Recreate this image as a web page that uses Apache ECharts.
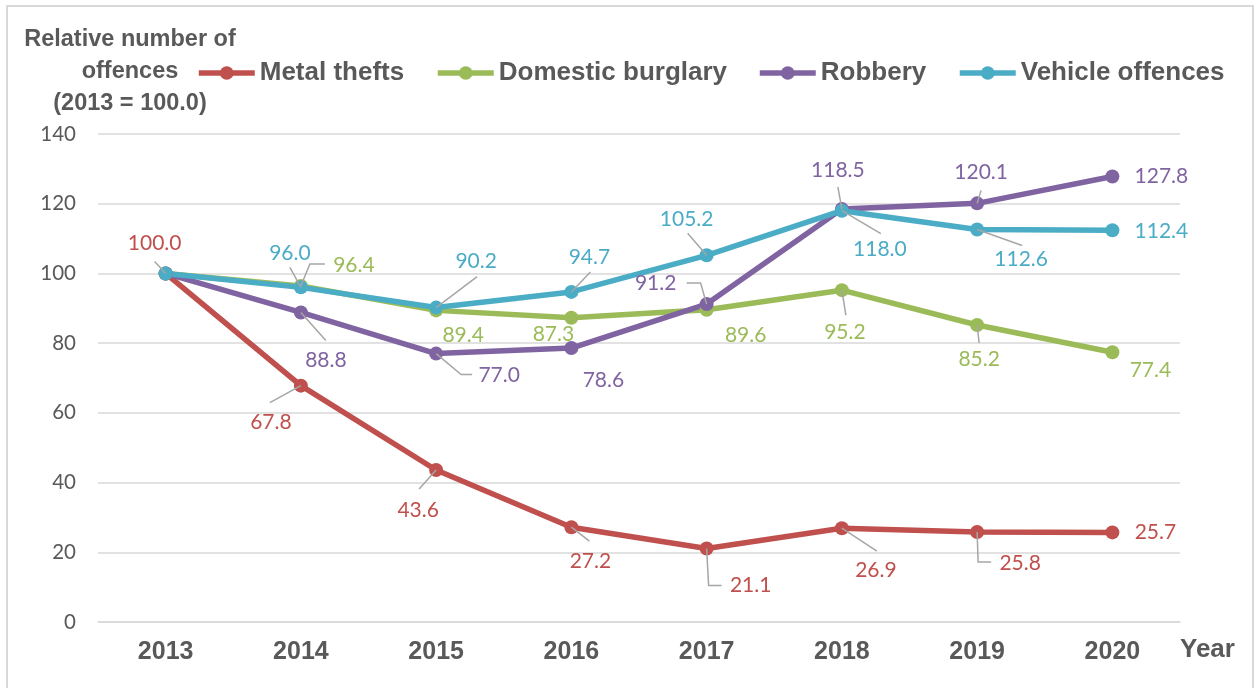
<!DOCTYPE html>
<html>
<head>
<meta charset="utf-8">
<script src="https://cdn.jsdelivr.net/npm/echarts@6/dist/echarts.min.js"></script>
<style>
  html, body { margin: 0; padding: 0; background: #ffffff; }
  #chart { width: 1258px; height: 688px; }
</style>
</head>
<body>
<div id="chart"></div>
<script>
// Relative number of offences, indexed to 2013 = 100.0
const years = ['2013', '2014', '2015', '2016', '2017', '2018', '2019', '2020'];
const metalThefts      = [100.0, 67.8, 43.6, 27.2, 21.1, 26.9, 25.8, 25.7];
const domesticBurglary = [100.0, 96.4, 89.4, 87.3, 89.6, 95.2, 85.2, 77.4];
const robbery          = [100.0, 88.8, 77.0, 78.6, 91.2, 118.5, 120.1, 127.8];
const vehicleOffences  = [100.0, 96.0, 90.2, 94.7, 105.2, 118.0, 112.6, 112.4];
const yTicks = [0, 20, 40, 60, 80, 100, 120, 140];

const seriesNames = ['Metal thefts', 'Domestic burglary', 'Robbery', 'Vehicle offences'];
const seriesColors = ['#C0504D', '#9BBB59', '#8064A2', '#4BACC6'];

// Data label offsets from each point, in pixels (null = point has no label)
const metalLabels    = [[-11, -30], [-30, 37], [-18, 40], [19, 34], [44, 37], [34, 42], [43, 31], [43, 0]];
const burglaryLabels = [null, [53, -21], [27, 25], [-18, 17], [39, 26], [3, 42], [2, 34], [38, 18]];
const robberyLabels  = [null, [25, 48], [63, 22], [32, 32], [-51, -21], [-4, -39], [4, -31], [49, 0]];
const vehicleLabels  = [null, [-11, -34], [40, -46], [18, -35], [-20, -36], [38, 39], [44, 30], [49, 1]];

// Leader line paths, as pixel offsets from each point (null = no leader)
const metalLeaders = [
  [[-11, -12], [0, 0]], [[-31, 17], [0, 0]], [[-17, 19], [0, 0]], [[0, 0], [18, 14]],
  [[0, 0], [2, 37], [15, 37]], [[0, 0], [35, 23]], [[0, 0], [1, 30], [14, 30]], null
];
const burglaryLeaders = [
  null, [[0, 0], [9, -22], [24, -22]], null, null, null, [[0, 0], [4, 25]], [[0, 0], [2, 18]], null
];
const robberyLeaders = [
  null, [[0, 0], [25, 28]], [[0, 0], [25, 21], [36, 21]], null,
  [[0, 0], [-6, -21], [-20, -21]], [[-4, -22], [0, 0]], [[0, 0], [4, -13]], null
];
const vehicleLeaders = [
  null, [[-11, -20], [0, 0]], [[0, 0], [41, -31]], [[0, 0], [19, -20]],
  [[0, 0], [-19, -22]], [[0, 0], [39, 23]], [[0, 0], [45, 16]], null
];

const LABEL_FONT = 'Lato, "Noto Sans", sans-serif';
const BOLD_FONT = '"Liberation Sans", Arial, sans-serif';
const TEXT_GREY = '#595959';
const LEADER_GREY = '#A6A6A6';

function buildPoints(values, placements, color) {
  return values.map(function (v, i) {
    const p = placements[i];
    if (!p) {
      return { value: v, label: { show: false } };
    }
    return {
      value: v,
      label: {
        show: true,
        position: 'inside',
        offset: [p[0], p[1]],
        color: color,
        fontFamily: LABEL_FONT,
        fontSize: 21,
        formatter: function (prm) { return Number(prm.value).toFixed(1); }
      }
    };
  });
}

const valueSets = [metalThefts, domesticBurglary, robbery, vehicleOffences];
const labelSets = [metalLabels, burglaryLabels, robberyLabels, vehicleLabels];
const leaderSets = [metalLeaders, burglaryLeaders, robberyLeaders, vehicleLeaders];

const lineSeries = valueSets.map(function (vals, k) {
  return {
    name: seriesNames[k],
    type: 'line',
    data: buildPoints(vals, labelSets[k], seriesColors[k]),
    symbol: 'circle',
    symbolSize: 14,
    showAllSymbol: true,
    lineStyle: { width: 5.5, color: seriesColors[k] },
    itemStyle: { color: seriesColors[k] },
    emphasis: { disabled: true },
    z: 2
  };
});

// Leader lines: anchored at each data point through the axes' own coordinates
const leaderData = [];
const leaderPaths = [];
valueSets.forEach(function (vals, k) {
  vals.forEach(function (v, i) {
    const path = leaderSets[k][i];
    if (path) {
      leaderData.push([i, v]);
      leaderPaths.push(path);
    }
  });
});

const leaderSeries = {
  type: 'custom',
  silent: true,
  z: 3,
  data: leaderData,
  renderItem: function (params, api) {
    const base = api.coord([api.value(0), api.value(1)]);
    const path = leaderPaths[params.dataIndex];
    return {
      type: 'polyline',
      shape: { points: path.map(function (p) { return [base[0] + p[0], base[1] + p[1]]; }) },
      style: { stroke: LEADER_GREY, lineWidth: 1.5, fill: null }
    };
  }
};

// One legend block per series so each sits at its own spot in the header row
const legendLefts = [191, 430, 752, 952];
const legends = seriesNames.map(function (name, k) {
  return {
    data: [name],
    left: legendLefts[k],
    top: 55,
    itemWidth: 56,
    itemHeight: 17,
    selectedMode: false,
    lineStyle: { width: 5.5 },
    itemStyle: { borderWidth: 0 },
    textStyle: { fontFamily: BOLD_FONT, fontWeight: 'bold', fontSize: 26, color: TEXT_GREY }
  };
});

const chart = echarts.init(document.getElementById('chart'), null, { renderer: 'canvas' });
chart.setOption({
  animation: false,
  backgroundColor: '#ffffff',
  legend: legends,
  grid: { left: 98, right: 78, top: 134, bottom: 66, containLabel: false },
  xAxis: {
    type: 'category',
    data: years,
    boundaryGap: true,
    axisLine: { show: true, lineStyle: { color: '#D9D9D9', width: 1.5 } },
    axisTick: { show: false },
    axisLabel: { margin: 18, fontFamily: BOLD_FONT, fontWeight: 'bold', fontSize: 25, color: TEXT_GREY }
  },
  yAxis: {
    type: 'value',
    min: yTicks[0],
    max: yTicks[yTicks.length - 1],
    interval: yTicks[1] - yTicks[0],
    axisLine: { show: false },
    axisTick: { show: false },
    splitLine: { show: true, lineStyle: { color: '#D9D9D9', width: 1.5 } },
    axisLabel: { margin: 22, fontFamily: LABEL_FONT, fontSize: 20.5, color: TEXT_GREY }
  },
  series: lineSeries.concat([leaderSeries]),
  graphic: [
    {
      type: 'rect',
      silent: true,
      shape: { x: 7, y: 6, width: 1246, height: 720 },
      style: { fill: 'none', stroke: '#D9D9D9', lineWidth: 2 }
    },
    {
      type: 'text',
      silent: true,
      x: 130,
      y: 72,
      style: {
        text: 'Relative number of\noffences\n(2013 = 100.0)',
        align: 'center',
        verticalAlign: 'middle',
        lineHeight: 32,
        fontFamily: BOLD_FONT,
        fontWeight: 'bold',
        fontSize: 23.5,
        fill: TEXT_GREY
      }
    },
    {
      type: 'text',
      silent: true,
      x: 1180,
      y: 650,
      style: {
        text: 'Year',
        align: 'left',
        verticalAlign: 'middle',
        fontFamily: BOLD_FONT,
        fontWeight: 'bold',
        fontSize: 26,
        fill: TEXT_GREY
      }
    }
  ]
});
</script>
</body>
</html>
